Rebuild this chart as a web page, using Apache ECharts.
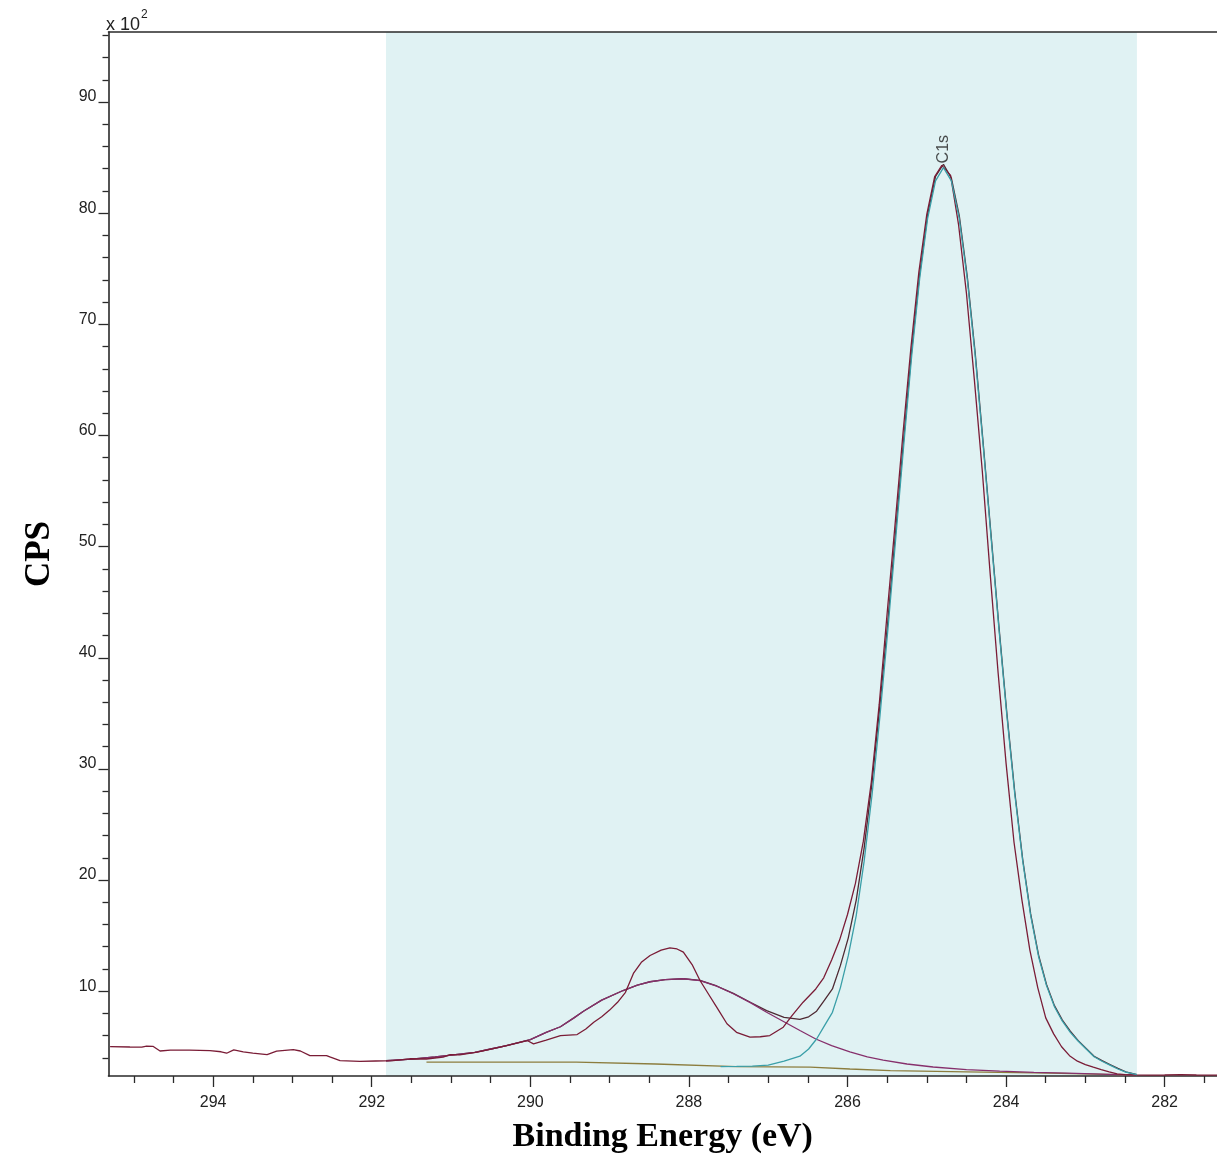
<!DOCTYPE html>
<html><head><meta charset="utf-8">
<script src="https://cdn.jsdelivr.net/npm/echarts@6/dist/echarts.min.js"></script>
<style>html,body{margin:0;padding:0;background:#fff}#c{width:1217px;height:1172px}</style>
</head><body><div id="c"></div>
<script>
// ---- axis ticks / labels ----
const xMajorTicks = [282, 284, 286, 288, 290, 292, 294];
const xMinorTicks = [281.5, 282.5, 283, 283.5, 284.5, 285, 285.5, 286.5, 287, 287.5, 288.5, 289, 289.5, 290.5, 291, 291.5, 292.5, 293, 293.5, 294.5, 295];
const yMajorTicks = [10, 20, 30, 40, 50, 60, 70, 80, 90];
const yMinorTicks = [4, 6, 8, 12, 14, 16, 18, 22, 24, 26, 28, 32, 34, 36, 38, 42, 44, 46, 48, 52, 54, 56, 58, 62, 64, 66, 68, 72, 74, 76, 78, 82, 84, 86, 88, 92, 94, 96];
const xRange = [281.34, 295.32];
const yRange = [2.37, 96.3];
const fitRegion = [291.82, 282.35];
const peakLabel = 'C1s';
const peakPos = [284.79, 84.3];

// ---- spectra (Binding energy eV, CPS x 10^2) ----
const rawData = [[295.30,5.02],[295.05,4.98],[294.90,4.96],[294.84,5.06],[294.76,5.04],[294.67,4.62],[294.54,4.70],[294.30,4.70],[294.04,4.66],[293.90,4.55],[293.83,4.42],[293.74,4.72],[293.62,4.55],[293.50,4.42],[293.32,4.30],[293.20,4.60],[292.99,4.74],[292.90,4.62],[292.78,4.21],[292.57,4.21],[292.52,4.06],[292.40,3.76],[292.15,3.68],[291.95,3.72],[291.73,3.76],[291.52,3.92],[291.31,3.90],[291.10,4.06],[291.01,4.30],[290.89,4.27],[290.67,4.51],[290.38,4.96],[290.04,5.56],[289.96,5.26],[289.80,5.60],[289.62,6.01],[289.41,6.10],[289.30,6.60],[289.20,7.20],[289.10,7.70],[289.00,8.30],[288.90,9.00],[288.80,9.90],[288.70,11.60],[288.60,12.60],[288.49,13.21],[288.35,13.70],[288.24,13.90],[288.15,13.80],[288.07,13.51],[287.96,12.40],[287.86,10.96],[287.75,9.70],[287.65,8.56],[287.52,7.07],[287.40,6.30],[287.23,5.86],[287.10,5.90],[286.98,6.01],[286.81,6.76],[286.70,7.80],[286.56,9.01],[286.40,10.20],[286.30,11.20],[286.20,12.80],[286.10,14.60],[286.00,16.90],[285.90,19.70],[285.80,23.50],[285.70,28.80],[285.60,35.80],[285.50,44.00],[285.40,52.00],[285.30,60.20],[285.20,67.90],[285.10,74.70],[285.00,79.90],[284.90,83.30],[284.81,84.30],[284.70,83.40],[284.60,79.00],[284.50,72.80],[284.40,65.00],[284.30,56.80],[284.20,47.50],[284.10,38.60],[284.00,30.50],[283.90,23.40],[283.80,18.20],[283.70,13.70],[283.60,10.30],[283.50,7.60],[283.40,6.16],[283.30,5.00],[283.20,4.20],[283.10,3.70],[283.00,3.40],[282.90,3.16],[282.80,2.95],[282.70,2.75],[282.60,2.56],[282.50,2.50],[282.40,2.47],[282.20,2.45],[282.00,2.46],[281.80,2.50],[281.60,2.46],[281.34,2.45]];

const mainPeak = [[287.60,3.22],[287.40,3.23],[287.20,3.25],[287.00,3.35],[286.80,3.70],[286.60,4.15],[286.49,4.80],[286.39,5.70],[286.29,6.90],[286.19,8.10],[286.09,10.30],[285.99,13.20],[285.89,16.80],[285.79,21.70],[285.69,27.70],[285.59,34.80],[285.49,42.60],[285.39,50.90],[285.29,59.20],[285.19,67.20],[285.09,74.10],[284.99,79.50],[284.89,82.90],[284.79,84.10],[284.69,82.90],[284.59,79.50],[284.49,74.10],[284.39,67.20],[284.29,59.20],[284.19,50.90],[284.09,42.60],[283.99,34.80],[283.89,27.70],[283.79,21.70],[283.69,16.80],[283.59,13.10],[283.49,10.50],[283.39,8.60],[283.29,7.30],[283.19,6.30],[283.09,5.50],[282.99,4.80],[282.89,4.10],[282.79,3.70],[282.69,3.35],[282.59,3.00],[282.49,2.72],[282.35,2.50]];

const broadPeak = [[291.82,3.74],[291.50,3.88],[291.20,4.08],[291.00,4.25],[290.70,4.50],[290.50,4.80],[290.30,5.10],[290.00,5.65],[289.80,6.30],[289.62,6.80],[289.45,7.60],[289.33,8.20],[289.10,9.20],[288.83,10.06],[288.65,10.55],[288.49,10.85],[288.30,11.05],[288.07,11.12],[287.86,10.96],[287.65,10.45],[287.44,9.77],[287.22,8.95],[287.02,8.11],[286.79,7.21],[286.60,6.46],[286.40,5.70],[286.20,5.10],[285.97,4.55],[285.75,4.10],[285.55,3.80],[285.25,3.45],[284.92,3.18],[284.50,2.95],[284.08,2.80],[283.65,2.70],[283.23,2.62],[282.90,2.56],[282.60,2.50],[282.35,2.47]];

const envelope = [[291.82,3.74],[291.50,3.88],[291.20,4.08],[291.00,4.25],[290.70,4.50],[290.50,4.80],[290.30,5.10],[290.00,5.65],[289.80,6.30],[289.62,6.80],[289.45,7.60],[289.33,8.20],[289.10,9.20],[288.83,10.06],[288.65,10.55],[288.49,10.85],[288.30,11.05],[288.07,11.12],[287.86,10.97],[287.65,10.47],[287.44,9.80],[287.22,8.98],[287.02,8.25],[286.80,7.65],[286.60,7.46],[286.49,7.70],[286.39,8.20],[286.29,9.20],[286.19,10.20],[286.09,12.30],[285.99,14.80],[285.89,18.20],[285.79,22.90],[285.69,28.80],[285.59,35.80],[285.49,43.40],[285.39,51.60],[285.29,59.80],[285.19,67.70],[285.09,74.50],[284.99,79.85],[284.89,83.30],[284.79,84.40],[284.69,83.15],[284.59,79.75],[284.49,74.35],[284.39,67.45],[284.29,59.40],[284.19,51.10],[284.09,42.80],[283.99,35.00],[283.89,27.90],[283.79,21.85],[283.69,16.95],[283.59,13.25],[283.49,10.60],[283.39,8.70],[283.29,7.40],[283.19,6.40],[283.09,5.55],[282.99,4.85],[282.89,4.15],[282.79,3.75],[282.69,3.40],[282.59,3.05],[282.49,2.75],[282.35,2.50]];

const background = [[291.31,3.61],[289.42,3.61],[289.40,3.50],[288.42,3.45],[288.40,3.32],[287.40,3.22],[286.47,3.16],[285.97,3.00],[285.46,2.86],[284.50,2.75],[283.45,2.62],[282.60,2.50],[282.35,2.47]];

const chart = echarts.init(document.getElementById('c'), null, {renderer: 'canvas'});
const tickFont = {fontFamily: 'Liberation Sans', fontSize: 16, color: '#222'};
const axisLineStyle = {color: '#2a2a2a', width: 1.6};
const lineSeries = (name, data, color, z, width) => ({
  name, type: 'line', data, showSymbol: false, symbol: 'none', z,
  lineStyle: {color, width: width || 1.3}, silent: true, animation: false
});

chart.setOption({
  animation: false,
  backgroundColor: '#ffffff',
  grid: {left: 108.5, right: 0, top: 32, bottom: 96, containLabel: false},
  graphic: [
    {type: 'text', left: 106, top: 16, style: {text: 'x 10', fontFamily: 'Liberation Sans', fontSize: 18, fill: '#222'}},
    {type: 'text', left: 141, top: 9, style: {text: '2', fontFamily: 'Liberation Sans', fontSize: 12, fill: '#222'}}
  ],
  xAxis: [
    {type: 'value', min: xRange[0], max: xRange[1], inverse: true, position: 'bottom',
     splitLine: {show: false},
     axisLine: {show: true, onZero: false, lineStyle: axisLineStyle},
     axisTick: {show: true, length: 11, customValues: xMajorTicks, lineStyle: {color: '#2a2a2a', width: 1.3}},
     axisLabel: {show: true, customValues: xMajorTicks, margin: 19, ...tickFont},
     name: 'Binding Energy (eV)', nameLocation: 'middle', nameGap: 61,
     nameTextStyle: {fontFamily: 'Liberation Serif', fontWeight: 'bold', fontSize: 34, color: '#000', verticalAlign: 'middle'}},
    {type: 'value', min: xRange[0], max: xRange[1], inverse: true, position: 'bottom',
     splitLine: {show: false}, axisLine: {show: false, onZero: false},
     axisTick: {show: true, length: 7, customValues: xMinorTicks, lineStyle: {color: '#2a2a2a', width: 1.3}},
     axisLabel: {show: false}},
    {type: 'value', min: xRange[0], max: xRange[1], inverse: true, position: 'top',
     splitLine: {show: false}, axisLine: {show: true, onZero: false, lineStyle: axisLineStyle},
     axisTick: {show: false}, axisLabel: {show: false}}
  ],
  yAxis: [
    {type: 'value', min: yRange[0], max: yRange[1], position: 'left',
     splitLine: {show: false},
     axisLine: {show: true, onZero: false, lineStyle: axisLineStyle},
     axisTick: {show: true, length: 10, customValues: yMajorTicks, lineStyle: {color: '#2a2a2a', width: 1.3}},
     axisLabel: {show: true, customValues: yMajorTicks, margin: 12, verticalAlign: 'bottom', lineHeight: 10, ...tickFont},
     name: 'CPS', nameLocation: 'middle', nameGap: 69, nameRotate: 90,
     nameTextStyle: {fontFamily: 'Liberation Serif', fontWeight: 'bold', fontSize: 35, color: '#000', verticalAlign: 'middle'}},
    {type: 'value', min: yRange[0], max: yRange[1], position: 'left',
     splitLine: {show: false}, axisLine: {show: false, onZero: false},
     axisTick: {show: true, length: 6, customValues: yMinorTicks, lineStyle: {color: '#2a2a2a', width: 1.3}},
     axisLabel: {show: false}}
  ],
  series: [
    Object.assign(lineSeries('Background', background, '#8c7d3e', 3, 1.3), {
      markArea: {silent: true, itemStyle: {color: '#e0f2f3'}, z: 0,
        data: [[{xAxis: fitRegion[0]}, {xAxis: fitRegion[1]}]]}
    }),
    lineSeries('Envelope', envelope, '#4e2a33', 4, 1.3),
    lineSeries('Broad component', broadPeak, '#86306c', 5, 1.3),
    lineSeries('Raw', rawData, '#7a1c36', 6, 1.3),
    lineSeries('Main component', mainPeak, '#3a9fa8', 7, 1.3),
    {type: 'scatter', data: [peakPos], symbolSize: 0, z: 8, silent: true,
     label: {show: true, formatter: peakLabel, position: 'top', distance: 2, rotate: 90,
       align: 'left', verticalAlign: 'middle', fontFamily: 'Liberation Sans', fontSize: 16, color: '#222'}}
  ]
});
</script>
</body></html>
